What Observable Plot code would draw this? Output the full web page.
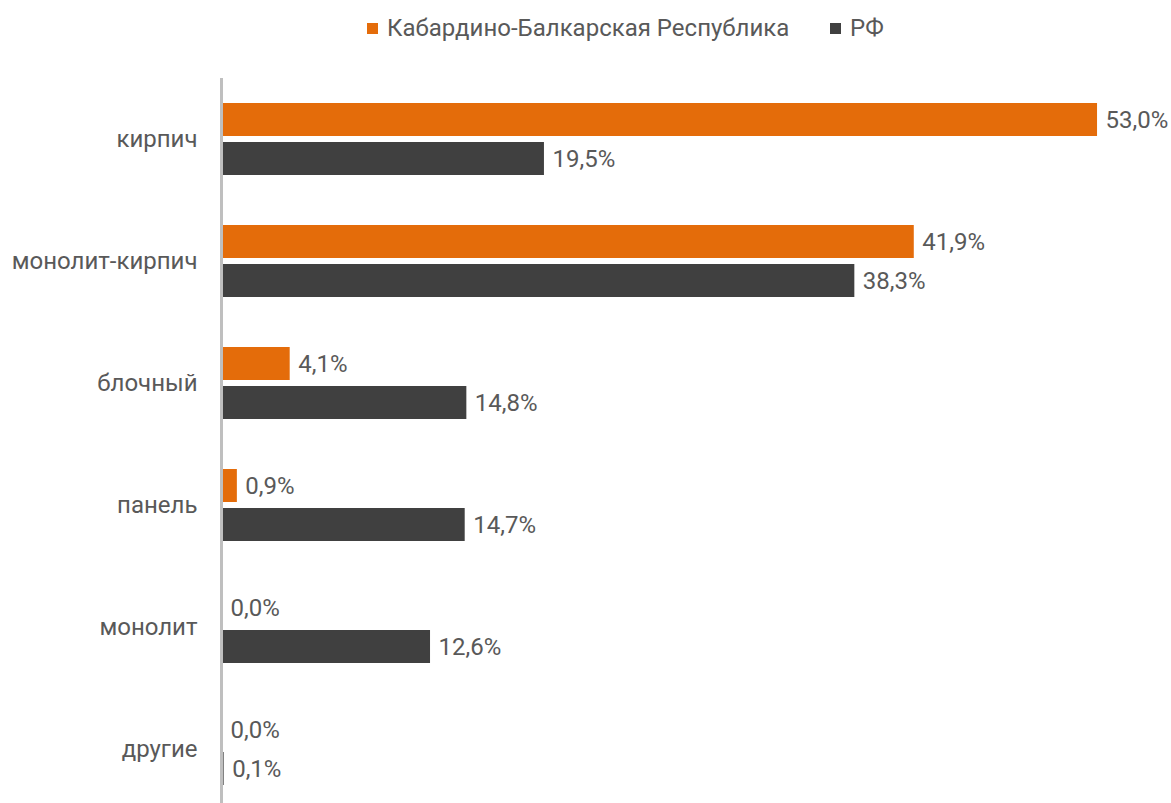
<!DOCTYPE html>
<html>
<head>
<meta charset="utf-8">
<script src="https://cdn.jsdelivr.net/npm/d3@7"></script>
<script src="https://cdn.jsdelivr.net/npm/@observablehq/plot@0.6"></script>
<style>
  html, body { margin: 0; padding: 0; background: #fff; overflow: hidden; }
  body { width: 1171px; height: 803px; font-family: Roboto, "Noto Sans", sans-serif; }
  #legend { position: relative; height: 58px; }
  .item { position: absolute; top: 12px; height: 32px; display: flex; align-items: center; font-size: 24px; color: #595959; white-space: nowrap; }
  .sw { width: 11px; height: 11px; margin-right: 9px; }
</style>
</head>
<body>
<div id="legend"></div>
<div id="chart"></div>
<script>
const categories = ["кирпич", "монолит-кирпич", "блочный", "панель", "монолит", "другие"];
const series = ["Кабардино-Балкарская Республика", "РФ"];
const kbrValues = [53.0, 41.9, 4.1, 0.9, 0.0, 0.0];
const rfValues = [19.5, 38.3, 14.8, 14.7, 12.6, 0.1];
const colors = ["#E46C0A", "#404040"];

const data = categories.flatMap((c, i) => [
  {category: c, series: series[0], value: kbrValues[i]},
  {category: c, series: series[1], value: rfValues[i]}
]);
const fmt = v => v.toFixed(1).replace(".", ",") + "%";

// legend
const legend = document.getElementById("legend");
const lefts = [367, 830];
series.forEach((s, i) => {
  const it = document.createElement("div");
  it.className = "item";
  it.style.left = lefts[i] + "px";
  const sw = document.createElement("span");
  sw.className = "sw";
  sw.style.background = colors[i];
  it.appendChild(sw);
  it.appendChild(document.createTextNode(s));
  legend.appendChild(it);
});

const chart = Plot.plot({
  width: 1171,
  height: 752,
  marginTop: 19,
  marginBottom: 0,
  marginLeft: 222,
  marginRight: 0,
  style: {fontFamily: "Roboto, 'Noto Sans', sans-serif", fontSize: "24px", color: "#595959", background: "#fff", overflow: "visible"},
  x: {domain: [0, 57.48], axis: null},
  y: {domain: series, axis: null, paddingInner: 0.154, paddingOuter: 0.64},
  fy: {domain: categories, padding: 0, label: null},
  color: {domain: series, range: colors},
  marks: [
    Plot.barX(data, {fy: "category", y: "series", x: "value", fill: "series"}),
    Plot.text(data, {fy: "category", y: "series", x: "value", text: d => fmt(d.value), textAnchor: "start", dx: 8, fill: "#595959", fontSize: 24}),
    Plot.axisFy({anchor: "left", tickSize: 0, tickPadding: 25, label: null, fontSize: 24, color: "#595959"}),
    Plot.ruleX([0], {stroke: "#BFBFBF", strokeWidth: 3, dx: -1})
  ]
});
document.getElementById("chart").appendChild(chart);
</script>
</body>
</html>
